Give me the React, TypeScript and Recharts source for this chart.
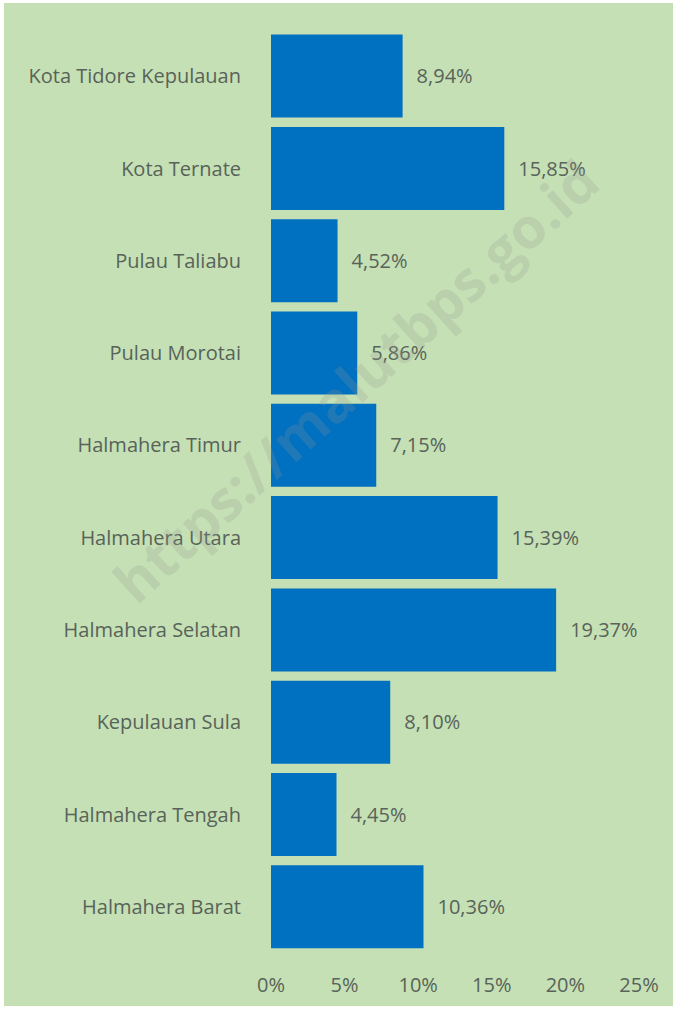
import { BarChart, Bar, XAxis, YAxis, LabelList } from "recharts";

const regions = [
  "Kota Tidore Kepulauan",
  "Kota Ternate",
  "Pulau Taliabu",
  "Pulau Morotai",
  "Halmahera Timur",
  "Halmahera Utara",
  "Halmahera Selatan",
  "Kepulauan Sula",
  "Halmahera Tengah",
  "Halmahera Barat",
];
const shares = [8.94, 15.85, 4.52, 5.86, 7.15, 15.39, 19.37, 8.1, 4.45, 10.36];
const xTicks = [0, 5, 10, 15, 20, 25];

const data = regions.map((region, i) => ({ region, share: shares[i] }));

const fmt = (v: number) => v.toFixed(2).replace(".", ",") + "%";

const textColor = "#58635a";

export default function App() {
  return (
    <div
      style={{
        position: "fixed",
        left: 4,
        top: 3,
        width: 669,
        height: 1003,
        background: "#c5e0b4",
        fontFamily: "'Open Sans', sans-serif",
        overflow: "hidden",
      }}
    >
      <BarChart
        width={669}
        height={1003}
        data={data}
        layout="vertical"
        margin={{ top: 27, right: 34, bottom: 13, left: 0 }}
        barCategoryGap="5%"
      >
        <XAxis
          type="number"
          domain={[0, 25]}
          ticks={xTicks}
          tickFormatter={(v: number) => v + "%"}
          axisLine={false}
          tickLine={false}
          tickSize={0}
          tickMargin={25}
          height={40}
          tick={{ fill: textColor, fontSize: 20 }}
        />
        <YAxis
          type="category"
          dataKey="region"
          width={267}
          axisLine={false}
          tickLine={false}
          tickSize={0}
          tickMargin={30}
          tick={{ fill: textColor, fontSize: 20 }}
        />
        <Bar dataKey="share" fill="#0070c0" isAnimationActive={false}>
          <LabelList
            dataKey="share"
            position="right"
            offset={14}
            formatter={(v: number) => fmt(v)}
            style={{ fill: textColor, fontSize: 20 }}
          />
        </Bar>
      </BarChart>
      <div
        style={{
          position: "absolute",
          left: 351,
          top: 377,
          transform: "translate(-50%, -50%) rotate(-42deg)",
          fontSize: 56,
          fontWeight: 700,
          color: "rgba(150,150,150,0.22)",
          whiteSpace: "nowrap",
          pointerEvents: "none",
        }}
      >
        https://malutbps.go.id
      </div>
    </div>
  );
}
